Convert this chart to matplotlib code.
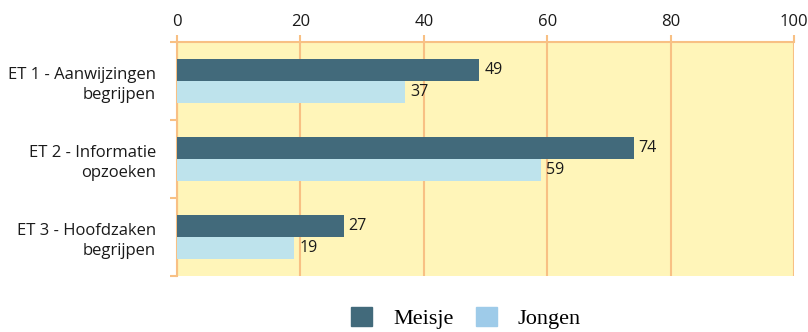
import matplotlib.pyplot as plt
from matplotlib.patches import Patch
import numpy as np

categories = ['ET 1 - Aanwijzingen\nbegrijpen', 'ET 2 - Informatie\nopzoeken', 'ET 3 - Hoofdzaken\nbegrijpen']
meisje = [49, 74, 27]
jongen = [37, 59, 19]

dark = '#426a7b'
light_bar = '#bee3ec'
light_leg = '#9ecbe9'
orange = '#f8c084'
bg = '#fff5b9'

plt.rcParams['font.family'] = ['Open Sans', 'DejaVu Sans']

fig = plt.figure(figsize=(8.08, 3.32), dpi=100)
ax = fig.add_axes([177 / 808, 1 - 276 / 332, 617 / 808, 234 / 332])
ax.set_facecolor(bg)

y = np.arange(len(categories))
h = 22 / 78
ax.barh(y - h / 2, meisje, height=h, color=dark, zorder=3)
ax.barh(y + h / 2, jongen, height=h, color=light_bar, zorder=3)

for yi, m, j in zip(y, meisje, jongen):
    ax.text(m + 0.8, yi - h / 2, str(m), va='center', ha='left', fontsize=11.5, color='#1a1a1a', zorder=4)
    ax.text(j + 0.8, yi + h / 2, str(j), va='center', ha='left', fontsize=11.5, color='#1a1a1a', zorder=4)

ax.set_xlim(0, 100)
ax.set_ylim(2.5, -0.5)
ax.set_xticks(range(0, 101, 20))
ax.xaxis.tick_top()
ax.tick_params(axis='x', length=5, width=1.5, color=orange, labelsize=12, pad=4, labelcolor='#1a1a1a')
ax.grid(axis='x', color=orange, linewidth=1.5, zorder=1)

# category labels sit at centres, ticks at the boundaries
ax.set_yticks([-0.5, 0.5, 1.5, 2.5])
ax.set_yticklabels([])
ax.set_yticks(y, minor=True)
ax.set_yticklabels(categories, minor=True, fontsize=12, ha='right', color='#1a1a1a', linespacing=1.35)
ax.tick_params(axis='y', which='major', length=5, width=1.5, color=orange)
ax.tick_params(axis='y', which='minor', length=0, pad=15)

for s in ['left', 'top']:
    ax.spines[s].set_color(orange)
    ax.spines[s].set_linewidth(1.5)
for s in ['right', 'bottom']:
    ax.spines[s].set_visible(False)

handles = [Patch(color=dark, label='Meisje'), Patch(color=light_leg, label='Jongen')]
fig.legend(handles=handles, loc='center', bbox_to_anchor=(466 / 808, 1 - 318 / 332), ncol=2,
           frameon=False, prop={'family': 'Liberation Serif', 'size': 16},
           handlelength=0.95, handleheight=0.95, handletextpad=0.95, columnspacing=1.0,
           borderpad=0, borderaxespad=0)

fig.savefig('out.png', dpi=100)
